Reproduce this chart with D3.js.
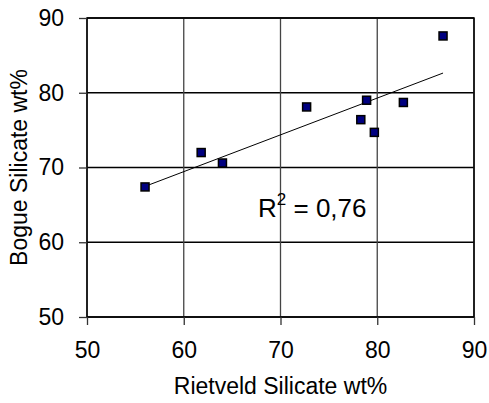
<!DOCTYPE html>
<html>
<head>
<meta charset="utf-8">
<script src="https://cdn.jsdelivr.net/npm/d3@7"></script>
<style>
  body { margin: 0; background: #fff; }
  svg text { font-family: "Liberation Sans", Arial, sans-serif; fill: #000; }
</style>
</head>
<body>
<div id="chart"></div>
<script>
// values
const rietveld = [56.0, 61.8, 64.0, 72.7, 78.9, 78.3, 79.7, 82.7, 86.8];
const bogue    = [67.4, 72.0, 70.6, 78.1, 79.0, 76.4, 74.7, 78.7, 87.6];
const xTicks = [50, 60, 70, 80, 90];
const yTicks = [50, 60, 70, 80, 90];
const r2Label = "0,76";

const W = 489, H = 403;
const margin = { top: 18, right: 15, bottom: 86, left: 87 };
const w = W - margin.left - margin.right;
const h = H - margin.top - margin.bottom;

const svg = d3.select("#chart").append("svg")
  .attr("width", W).attr("height", H);
const g = svg.append("g")
  .attr("transform", "translate(" + margin.left + "," + margin.top + ")");

const x = d3.scaleLinear().domain([50, 90]).range([0, w]);
const y = d3.scaleLinear().domain([50, 90]).range([h, 0]);

// grid
g.selectAll(".hgrid").data(yTicks).enter().append("line")
  .attr("x1", 0).attr("x2", w)
  .attr("y1", d => y(d)).attr("y2", d => y(d))
  .attr("stroke", "#000").attr("stroke-width", 1.3);
g.selectAll(".vgrid").data(xTicks).enter().append("line")
  .attr("y1", 0).attr("y2", h)
  .attr("x1", d => x(d)).attr("x2", d => x(d))
  .attr("stroke", "#444").attr("stroke-width", 1.3);

// frame
g.append("rect").attr("width", w).attr("height", h)
  .attr("fill", "none").attr("stroke", "#000").attr("stroke-width", 1.5);

// axes
const xAxis = g.append("g").attr("transform", "translate(0," + h + ")")
  .call(d3.axisBottom(x).tickValues(xTicks).tickSize(8).tickPadding(17).tickSizeOuter(0));
const yAxis = g.append("g")
  .call(d3.axisLeft(y).tickValues(yTicks).tickSize(8).tickPadding(15).tickSizeOuter(0));
[xAxis, yAxis].forEach(a => {
  a.select(".domain").remove();
  a.selectAll("line").attr("stroke", "#333").attr("stroke-width", 1.3);
  a.selectAll("text").style("font-size", "23px").attr("fill", "#000");
});

// linear trend line
const mx = d3.mean(rietveld), my = d3.mean(bogue);
const sxy = d3.sum(rietveld, (v, i) => (v - mx) * (bogue[i] - my));
const sxx = d3.sum(rietveld, v => (v - mx) * (v - mx));
const slope = sxy / sxx, icpt = my - slope * mx;
const xr = d3.extent(rietveld);
g.append("line")
  .attr("x1", x(xr[0])).attr("y1", y(icpt + slope * xr[0]))
  .attr("x2", x(xr[1])).attr("y2", y(icpt + slope * xr[1]))
  .attr("stroke", "#000").attr("stroke-width", 1);

// points
g.selectAll(".pt").data(rietveld).enter().append("rect")
  .attr("x", (d) => x(d) - 4).attr("y", (d, i) => y(bogue[i]) - 4)
  .attr("width", 8).attr("height", 8)
  .attr("fill", "#000080").attr("stroke", "#000").attr("stroke-width", 1.5);

// R² label
const lab = g.append("text")
  .attr("x", 258 - margin.left).attr("y", 217 - margin.top)
  .style("font-size", "26px");
lab.append("tspan").text("R");
lab.append("tspan").attr("dy", -12).style("font-size", "17px").text("2");
lab.append("tspan").attr("dy", 12).text(" = " + r2Label);

// axis titles
svg.append("text")
  .attr("x", margin.left + w / 2).attr("y", 394)
  .attr("text-anchor", "middle").style("font-size", "23px")
  .text("Rietveld Silicate wt%");
svg.append("text")
  .attr("transform", "translate(27," + (margin.top + h / 2) + ") rotate(-90)")
  .attr("text-anchor", "middle").style("font-size", "23px")
  .text("Bogue Silicate wt%");
</script>
</body>
</html>
